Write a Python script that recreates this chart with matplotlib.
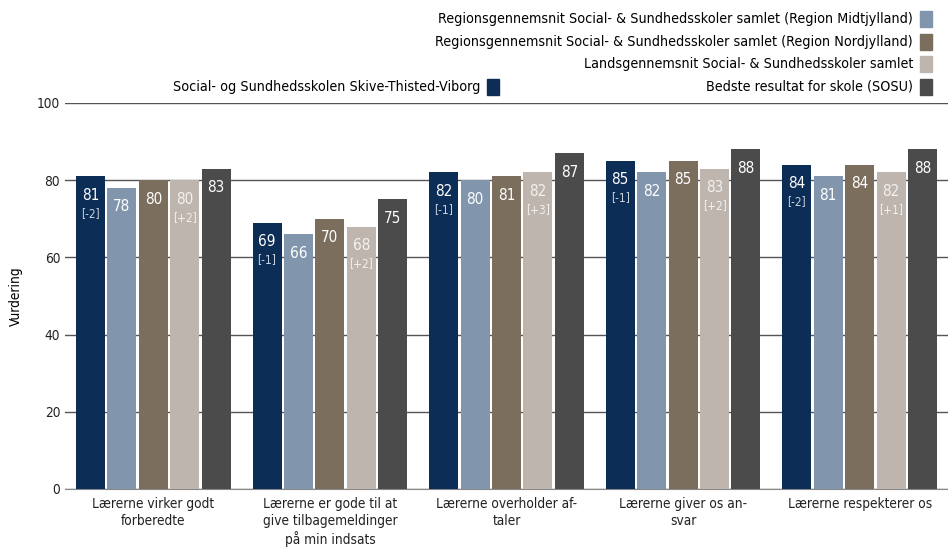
import matplotlib.pyplot as plt
from matplotlib.patches import Rectangle
import numpy as np

categories = ['Lærerne virker godt\nforberedte',
              'Lærerne er gode til at\ngive tilbagemeldinger\npå min indsats',
              'Lærerne overholder af-\ntaler',
              'Lærerne giver os an-\nsvar',
              'Lærerne respekterer os']

series_names = ['Social- og Sundhedsskolen Skive-Thisted-Viborg',
                'Regionsgennemsnit Social- & Sundhedsskoler samlet (Region Midtjylland)',
                'Regionsgennemsnit Social- & Sundhedsskoler samlet (Region Nordjylland)',
                'Landsgennemsnit Social- & Sundhedsskoler samlet',
                'Bedste resultat for skole (SOSU)']

skole = [81, 69, 82, 85, 84]
midtjylland = [78, 66, 80, 82, 81]
nordjylland = [80, 70, 81, 85, 84]
landsgns = [80, 68, 82, 83, 82]
bedste = [83, 75, 87, 88, 88]

skole_diff = ['[-2]', '[-1]', '[-1]', '[-1]', '[-2]']
lands_diff = ['[+2]', '[+2]', '[+3]', '[+2]', '[+1]']

colors = ['#0c2d55', '#8196ad', '#7b6e5d', '#bdb5ae', '#4b4b4b']
txt_colors = ['white', 'white', 'white', '#f4f1ee', 'white']
sub_colors = ['#c9d2dd', None, None, '#f4f1ee', None]

plt.rcParams['font.family'] = 'DejaVu Sans'
plt.rcParams['font.stretch'] = 'condensed'

fig = plt.figure(figsize=(9.48, 5.49), dpi=100)
ax = fig.add_axes([0.0686, 0.1093, 0.9314, 0.7031])

allvals = [skole, midtjylland, nordjylland, landsgns, bedste]
diffs = [skole_diff, None, None, lands_diff, None]
x = np.arange(len(categories))
step = 0.178
width = 0.164
for i, vals in enumerate(allvals):
    xs = x + (i - 2) * step
    ax.bar(xs, vals, width=width, color=colors[i], zorder=3)
    for j, v in enumerate(vals):
        ax.annotate(str(v), (xs[j], v), xytext=(0, -19), textcoords='offset pixels',
                    ha='center', va='center', color=txt_colors[i], fontsize=11, zorder=4)
        if diffs[i] is not None:
            ax.annotate(diffs[i][j], (xs[j], v), xytext=(0, -37), textcoords='offset pixels',
                        ha='center', va='center', color=sub_colors[i], fontsize=8.5, zorder=4)

ax.set_xlim(-0.5, 4.5)
ax.set_ylim(0, 100)
ax.set_yticks([0, 20, 40, 60, 80, 100])
ax.grid(axis='y', color='#555555', linewidth=1, zorder=0)
ax.set_xticks(x)
ax.set_xticklabels(categories, fontsize=9.8, linespacing=1.25)
ax.tick_params(axis='both', length=0, labelsize=9.8, colors='#222222')
ax.tick_params(axis='x', pad=6)
for s in ['top', 'right', 'left']:
    ax.spines[s].set_visible(False)
ax.spines['bottom'].set_color('#888888')
ax.set_ylabel('Vurdering', fontsize=9.8, labelpad=10)

# legend drawn by hand
W, H = 948.0, 549.0
def legend_item(label, color, x_right, y):
    fig.text((x_right - 7) / W, 1 - y / H, label, ha='right', va='center', fontsize=10.3)
    fig.patches.append(Rectangle((x_right / W, 1 - (y + 8) / H), 12 / W, 16 / H,
                                 transform=fig.transFigure, color=color, figure=fig))

legend_item(series_names[1], colors[1], 920, 19)
legend_item(series_names[2], colors[2], 920, 42)
legend_item(series_names[3], colors[3], 920, 64)
legend_item(series_names[4], colors[4], 920, 87)
legend_item(series_names[0], colors[0], 487, 87)

fig.savefig('out.png', dpi=100)
